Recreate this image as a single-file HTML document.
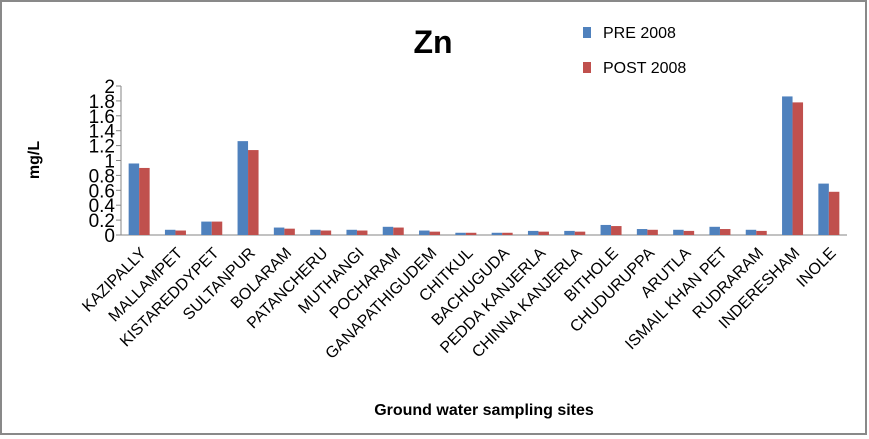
<!DOCTYPE html>
<html><head><meta charset="utf-8"><style>
body{margin:0;background:#fff}
svg{display:block;font-family:"Liberation Sans",sans-serif}
</style></head><body>
<svg id="c" width="869" height="439">
<rect x="1" y="1" width="865" height="433" fill="#fff" stroke="#898989" stroke-width="2"/>
<text x="433" y="53" font-size="32" font-weight="bold" text-anchor="middle">Zn</text>
<rect x="583" y="27" width="8" height="11" fill="#4f81bd"/>
<text x="603" y="38" font-size="16">PRE 2008</text>
<rect x="583" y="62" width="8" height="11" fill="#c0504d"/>
<text x="603" y="73" font-size="16">POST 2008</text>
<text transform="translate(39,160) rotate(-90)" font-size="16" font-weight="bold" text-anchor="middle">mg/L</text>
<text x="484" y="415" font-size="16" font-weight="bold" text-anchor="middle">Ground water sampling sites</text>
<g id="g"></g>
</svg>
<script>
const categories=["KAZIPALLY","MALLAMPET","KISTAREDDYPET","SULTANPUR","BOLARAM","PATANCHERU","MUTHANGI","POCHARAM","GANAPATHIGUDEM","CHITKUL","BACHUGUDA","PEDDA KANJERLA","CHINNA KANJERLA","BITHOLE","CHUDURUPPA","ARUTLA","ISMAIL KHAN PET","RUDRARAM","INDERESHAM","INOLE"];
const pre2008=[0.96,0.07,0.18,1.26,0.10,0.07,0.07,0.11,0.06,0.03,0.03,0.055,0.055,0.135,0.08,0.07,0.11,0.07,1.86,0.69];
const post2008=[0.90,0.06,0.18,1.14,0.085,0.06,0.06,0.10,0.045,0.03,0.03,0.045,0.045,0.12,0.07,0.055,0.08,0.055,1.78,0.58];
const yTicks=["0","0.2","0.4","0.6","0.8","1","1.2","1.4","1.6","1.8","2"];
const NS="http://www.w3.org/2000/svg",g=document.getElementById('g');
const x0=121,x1=847,y0=235,y2=86,ymax=2;
const band=(x1-x0)/categories.length;
const y=v=>y0-(v/ymax)*(y0-y2);
const xc=i=>x0+band*(i+0.5);
function mk(t,a){const e=document.createElementNS(NS,t);for(const k in a)e.setAttribute(k,a[k]);g.appendChild(e);return e;}
let ax=mk('line',{x1:x0,y1:y2,x2:x0,y2:y0,stroke:'#868686'});


let bx=mk('line',{x1:x0,y1:y0,x2:x1,y2:y0,stroke:'#868686'});


yTicks.forEach(t=>{const v=parseFloat(t),yy=y(v);
 mk('line',{x1:x0-5,y1:yy,x2:x0,y2:yy,stroke:'#868686'});
 const tx=mk('text',{x:x0-6,y:yy+7,'font-size':19,'text-anchor':'end'});tx.textContent=t;
 
 });
const bw=10.5;
categories.forEach((c,i)=>{const cx=xc(i);
 const a=mk('rect',{x:cx-bw,y:y(pre2008[i]),width:bw,height:y0-y(pre2008[i]),fill:'#4f81bd'});
 
 
 const b=mk('rect',{x:cx,y:y(post2008[i]),width:bw,height:y0-y(post2008[i]),fill:'#c0504d'});
 
 
 const t=mk('text',{transform:`translate(${cx+8},${y0+19}) rotate(-45)`,'font-size':16,'text-anchor':'end'});t.textContent=c;
 
 });
</script>
</body></html>
